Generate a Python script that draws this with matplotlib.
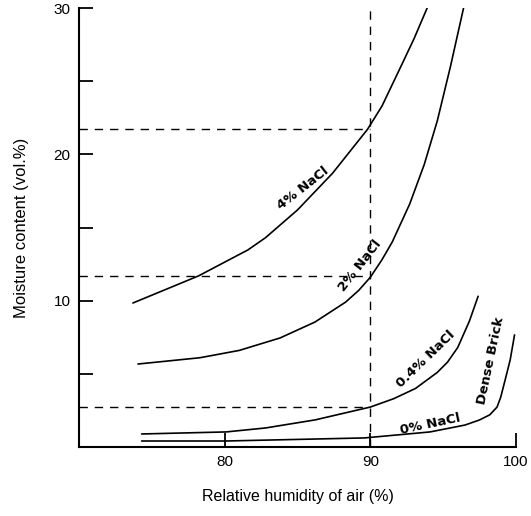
import matplotlib.pyplot as plt
from matplotlib.ticker import MultipleLocator

plt.rcParams['font.family'] = ['Liberation Sans', 'DejaVu Sans']

# curves (relative humidity %, moisture content vol.%)
rh_4 = [73.7, 78.2, 81.6, 82.8, 85.0, 87.4, 89.8, 90.8, 92.0, 93.0, 93.9]
mc_4 = [9.84, 11.69, 13.47, 14.3, 16.2, 18.7, 21.7, 23.3, 25.8, 27.9, 30.0]

rh_2 = [74.05, 78.3, 81.0, 83.8, 86.2, 88.3, 89.2, 90.0, 90.8, 91.5, 92.7, 93.7,
        94.6, 95.5, 96.4]
mc_2 = [5.67, 6.1, 6.6, 7.45, 8.54, 9.9, 10.7, 11.6, 12.8, 14.0, 16.6, 19.3,
        22.3, 26.0, 30.0]

rh_04 = [74.3, 80.1, 82.8, 86.2, 90.0, 91.6, 93.1, 94.6, 95.3, 96.0, 96.8, 97.4]
mc_04 = [0.89, 1.03, 1.3, 1.85, 2.73, 3.3, 4.0, 5.1, 5.8, 6.8, 8.6, 10.3]

rh_0 = [74.3, 80.1, 89.6, 94.1, 96.5, 97.5, 98.2, 98.7, 98.95, 99.2, 99.6, 99.9]
mc_0 = [0.41, 0.41, 0.62, 1.03, 1.5, 1.85, 2.2, 2.73, 3.4, 4.37, 5.95, 7.66]

# reading lines at 90 % RH
rh_read = 90
mc_read = [21.7, 11.7, 2.73]

labels = ["4% NaCl", "2% NaCl", "0.4% NaCl", "0% NaCl", "Dense Brick"]
label_pos = [(85.4, 17.7), (89.3, 12.4), (93.8, 6.0), (94.1, 1.55), (98.3, 5.9)]
label_rot = [38, 52, 44, 12, 78]

fig = plt.figure(figsize=(5.31, 5.16), dpi=100)
ax = fig.add_axes([79 / 531, (516 - 447) / 516, (516 - 79) / 531, (447 - 8) / 516])

for rh, mc in [(rh_4, mc_4), (rh_2, mc_2), (rh_04, mc_04), (rh_0, mc_0)]:
    ax.plot(rh, mc, color="black", lw=1.2, solid_capstyle="round",
            solid_joinstyle="round")

dash = dict(color="black", lw=1.0, linestyle=(0, (6, 5)))
ax.plot([rh_read, rh_read], [0, 30], **dash)
for m in mc_read:
    ax.plot([70, rh_read], [m, m], **dash)

for text, (x, y), r in zip(labels, label_pos, label_rot):
    ax.text(x, y, text, rotation=r, ha="center", va="center",
            fontsize=9.5, fontweight="bold", family="DejaVu Sans",
            rotation_mode="anchor")

ax.set_xlim(70, 100)
ax.set_ylim(0, 30)
ax.set_xticks([80, 90, 100])
ax.yaxis.set_major_locator(MultipleLocator(10))
ax.yaxis.set_minor_locator(MultipleLocator(5))
ax.set_yticks([10, 20, 30])
ax.tick_params(direction="in", length=10, width=1.3, labelsize=11, pad=6)
ax.tick_params(which="minor", direction="in", length=10, width=1.3)
ax.spines["top"].set_visible(False)
ax.spines["right"].set_visible(False)
ax.spines["left"].set_linewidth(1.5)
ax.spines["bottom"].set_linewidth(1.5)

ax.set_xlabel("Relative humidity of air (%)", fontsize=11.5, labelpad=14)
ax.set_ylabel("Moisture content (vol.%)", fontsize=12, labelpad=18)

fig.savefig("out.png", dpi=100)
